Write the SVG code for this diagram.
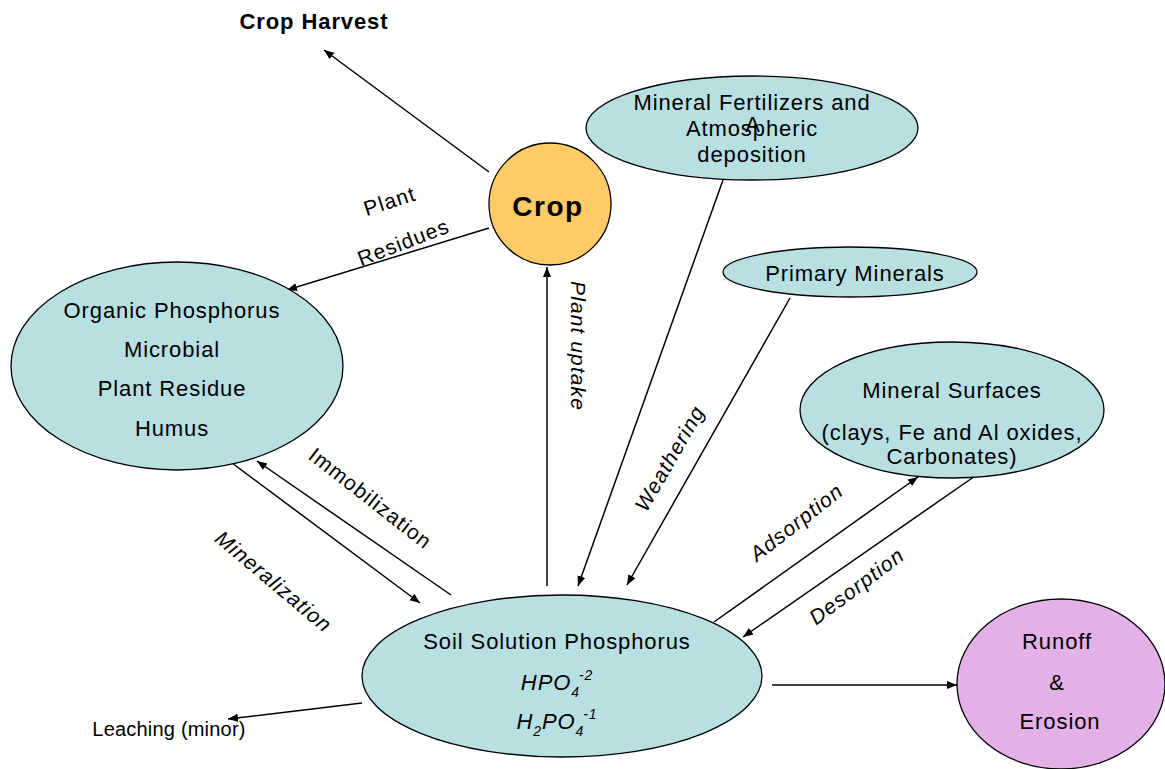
<svg xmlns="http://www.w3.org/2000/svg" width="1165" height="769" viewBox="0 0 1165 769">
<defs>
<marker id="ah" viewBox="0 0 10 10" refX="10" refY="5" markerWidth="10" markerHeight="10" markerUnits="userSpaceOnUse" orient="auto">
<path d="M0,1 L10,5 L0,9 Z" fill="#000"/>
</marker>
</defs>
<style>
.t{font-family:"Liberation Sans",Arial,sans-serif;font-size:22px;letter-spacing:0.9px;fill:#000;text-anchor:middle}
.l{font-size:21px;letter-spacing:1.1px}
.i{font-style:italic}
.b{font-weight:bold}
.blue{fill:#B8DFE2;stroke:#000;stroke-width:1.3}
.ln{stroke:#000;stroke-width:1.5;fill:none;marker-end:url(#ah)}
</style>
<rect width="1165" height="769" fill="#fff"/>

<g id="connectors">
<line class="ln" x1="489" y1="172" x2="324" y2="50"/>
<line class="ln" x1="489" y1="228" x2="287" y2="290"/>
<line class="ln" x1="547" y1="586" x2="547" y2="267"/>
<line class="ln" x1="723" y1="180" x2="578" y2="586"/>
<line class="ln" x1="790" y1="298" x2="627" y2="585"/>
<line class="ln" x1="714" y1="622" x2="918" y2="477"/>
<line class="ln" x1="978" y1="474" x2="743" y2="637"/>
<line class="ln" x1="228" y1="460" x2="420" y2="603"/>
<line class="ln" x1="451" y1="595" x2="257" y2="461"/>
<line class="ln" x1="362" y1="703" x2="228" y2="719"/>
<line class="ln" x1="772" y1="685" x2="957" y2="685"/>
</g>

<g id="crop-harvest"><text class="t b" x="314" y="29" style="font-size:22px;letter-spacing:0.9px">Crop Harvest</text></g>

<g id="crop">
<circle cx="550" cy="204" r="61" fill="#FECB66" stroke="#000" stroke-width="1.3"/>
<text class="t b" x="548" y="216" style="font-size:28px;letter-spacing:1.5px">Crop</text>
</g>

<g id="fertilizers">
<ellipse class="blue" cx="752" cy="128" rx="166" ry="52"/>
<text class="t" x="752" y="110">Mineral Fertilizers and</text>
<text class="t" x="752" y="136">Atmospheric</text>
<text class="t" x="753" y="132">A</text>
<text class="t" x="752" y="162">deposition</text>
</g>

<g id="primary-minerals">
<ellipse class="blue" cx="850" cy="272" rx="127" ry="25"/>
<text class="t" x="855" y="281">Primary Minerals</text>
</g>

<g id="mineral-surfaces">
<ellipse class="blue" cx="952" cy="410" rx="152" ry="68"/>
<text class="t" x="952" y="398">Mineral Surfaces</text>
<text class="t" x="952" y="440">(clays, Fe and Al oxides,</text>
<text class="t" x="952" y="464">Carbonates)</text>
</g>

<g id="organic">
<ellipse class="blue" cx="177" cy="366" rx="166" ry="104"/>
<text class="t" x="172" y="318">Organic Phosphorus</text>
<text class="t" x="172" y="357">Microbial</text>
<text class="t" x="172" y="396">Plant Residue</text>
<text class="t" x="172" y="436">Humus</text>
</g>

<g id="soil-solution">
<ellipse class="blue" cx="562" cy="676" rx="200" ry="81"/>
<text class="t" x="557" y="649">Soil Solution Phosphorus</text>
<text class="t i" x="557" y="690">HPO<tspan font-size="14" dy="7">4</tspan><tspan font-size="14" dx="-1" dy="-17">-2</tspan></text>
<text class="t i" x="557" y="729">H<tspan font-size="14" dy="7">2</tspan><tspan dy="-7">PO</tspan><tspan font-size="14" dy="7">4</tspan><tspan font-size="14" dx="-1" dy="-17">-1</tspan></text>
</g>

<g id="runoff">
<ellipse cx="1061" cy="684" rx="104" ry="85" fill="#E4B0E8" stroke="#000" stroke-width="1.3"/>
<text class="t" x="1057" y="649">Runoff</text>
<text class="t" x="1057" y="690">&amp;</text>
<text class="t" x="1060" y="729">Erosion</text>
</g>

<g id="leaching"><text class="t" x="169" y="736" style="font-size:20px;letter-spacing:0.2px">Leaching (minor)</text></g>

<g id="labels">
<text class="t l" transform="translate(392,208) rotate(-18)">Plant</text>
<text class="t l" transform="translate(406,249) rotate(-21)">Residues</text>
<text class="t l i" transform="translate(571,346) rotate(90)">Plant uptake</text>
<text class="t l i" transform="translate(676,462) rotate(-60)">Weathering</text>
<text class="t l" transform="translate(366,504) rotate(38)">Immobilization</text>
<text class="t l i" transform="translate(269,587) rotate(40)">Mineralization</text>
<text class="t l i" transform="translate(801,528) rotate(-38)">Adsorption</text>
<text class="t l i" transform="translate(861,592) rotate(-37)">Desorption</text>
</g>
</svg>
